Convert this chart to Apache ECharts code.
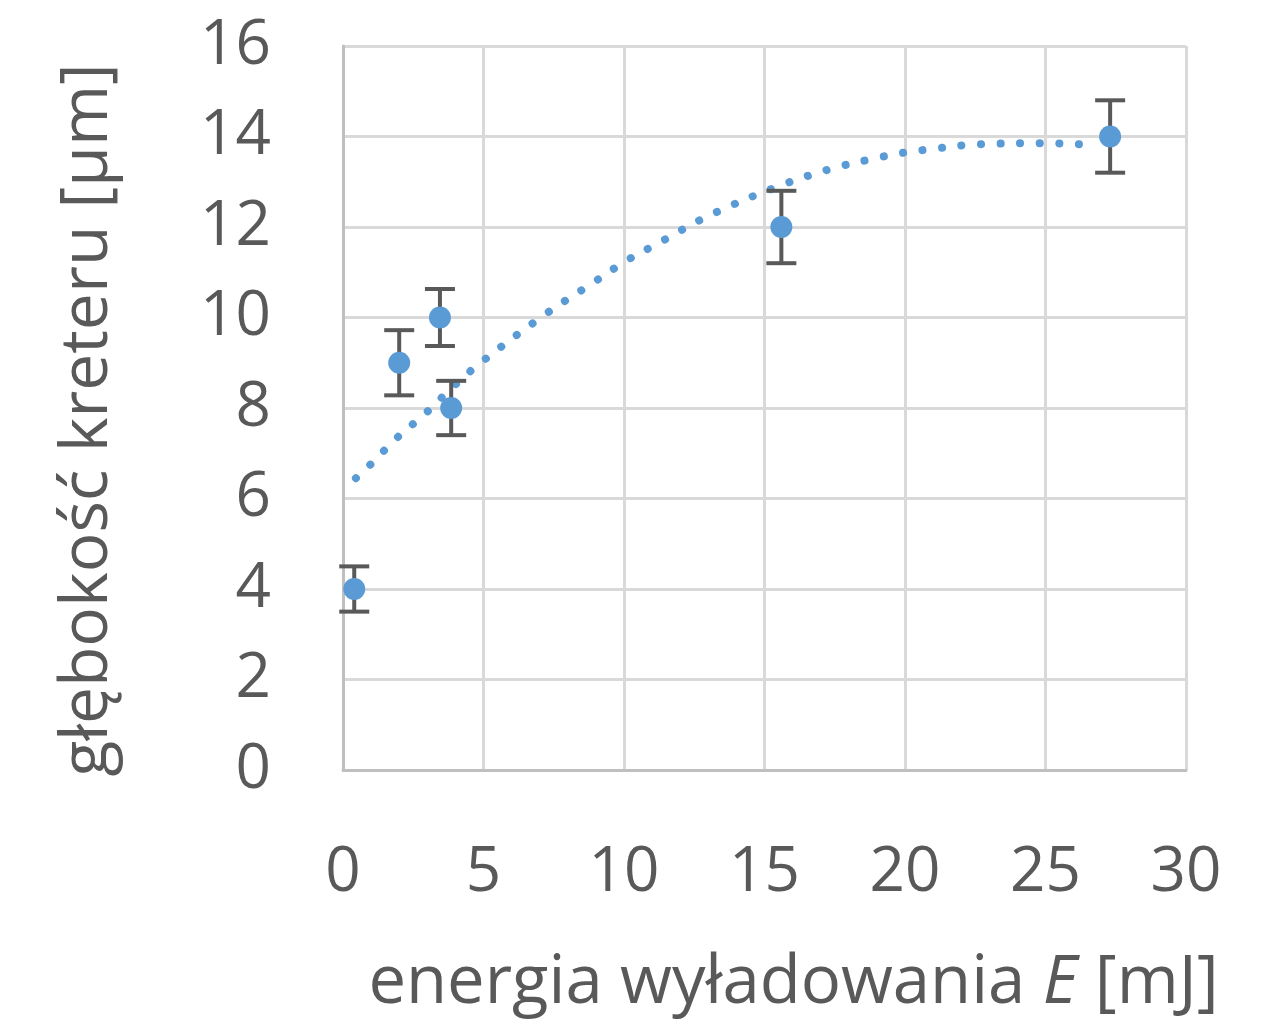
<!DOCTYPE html>
<html>
<head>
<meta charset="utf-8">
<script src="https://cdn.jsdelivr.net/npm/echarts@6/dist/echarts.min.js"></script>
<style>
html,body{margin:0;padding:0;background:#fff;}
#chart{width:1281px;height:1024px;}
</style>
</head>
<body>
<div id="chart"></div>
<script>
// measured points
const energy = [0.4, 2.0, 3.45, 3.85, 15.6, 27.3];
const depth = [4, 9, 10, 8, 12, 14];
const errors = [0.5, 0.72, 0.63, 0.6, 0.8, 0.8];

// trend line
const trendX = [0.46, 0.96, 1.92, 2.95, 3.95, 4.98, 7.22, 8.93, 10.07, 11.25, 12.99, 15.41, 17.33, 18.65, 19.93, 20.64, 22.67, 24.8, 26.19, 26.87];
const trendY = [6.45, 6.74, 7.34, 7.89, 8.49, 9.04, 10.08, 10.78, 11.25, 11.65, 12.24, 12.88, 13.28, 13.48, 13.64, 13.70, 13.83, 13.85, 13.83, 13.77];

const xTicks = [0, 5, 10, 15, 20, 25, 30];
const yTicks = [0, 2, 4, 6, 8, 10, 12, 14, 16];

const blue = '#5b9bd5';
const textColor = '#595959';
const font = 'Open Sans';

const chart = echarts.init(document.getElementById('chart'));
chart.setOption({
  animation: false,
  backgroundColor: '#fff',
  grid: {left: 343, right: 95, top: 46, bottom: 254, containLabel: false},
  xAxis: {
    type: 'value',
    min: xTicks[0], max: xTicks[xTicks.length - 1], interval: 5,
    name: '{a|energia wyładowania }{i|E}{a| [mJ]}',
    nameLocation: 'middle',
    nameGap: 180,
    nameTextStyle: {
      padding: [0, 0, 0, 58],
      rich: {
        a: {fontFamily: font, fontSize: 67, color: textColor},
        i: {fontFamily: font, fontSize: 67, color: textColor, fontStyle: 'italic'}
      }
    },
    axisLine: {show: true, lineStyle: {color: '#bfbfbf', width: 3}},
    axisTick: {show: false},
    splitLine: {show: true, lineStyle: {color: '#d9d9d9', width: 3}},
    axisLabel: {fontFamily: font, fontSize: 62, color: textColor, margin: 72}
  },
  yAxis: {
    type: 'value',
    min: yTicks[0], max: yTicks[yTicks.length - 1], interval: 2,
    name: 'głębokość kreteru [µm]',
    nameLocation: 'middle',
    nameGap: 222,
    nameTextStyle: {fontFamily: font, fontSize: 66, color: textColor, padding: [0, 24, 0, 0]},
    axisLine: {show: true, lineStyle: {color: '#bfbfbf', width: 3}},
    axisTick: {show: false},
    splitLine: {show: true, lineStyle: {color: '#d9d9d9', width: 3}},
    axisLabel: {fontFamily: font, fontSize: 62, color: textColor, margin: 72}
  },
  series: [
    {
      type: 'line',
      data: trendX.map((x, i) => [x, trendY[i]]),
      smooth: 0.4,
      showSymbol: false,
      symbol: 'none',
      lineStyle: {color: blue, width: 8, type: [0.1, 19.5], cap: 'round', opacity: 1},
      z: 2
    },
    {
      type: 'custom',
      data: energy.map((x, i) => [x, depth[i], errors[i]]),
      renderItem: function (params, api) {
        const x = api.value(0), y = api.value(1), e = api.value(2);
        const top = api.coord([x, y + e]);
        const bot = api.coord([x, y - e]);
        const hw = 15;
        const st = {stroke: '#595959', lineWidth: 4};
        return {
          type: 'group',
          children: [
            {type: 'line', shape: {x1: top[0], y1: top[1], x2: bot[0], y2: bot[1]}, style: st},
            {type: 'line', shape: {x1: top[0] - hw, y1: top[1], x2: top[0] + hw, y2: top[1]}, style: st},
            {type: 'line', shape: {x1: bot[0] - hw, y1: bot[1], x2: bot[0] + hw, y2: bot[1]}, style: st}
          ]
        };
      },
      z: 3
    },
    {
      type: 'scatter',
      data: energy.map((x, i) => [x, depth[i]]),
      symbol: 'circle',
      symbolSize: 22,
      itemStyle: {color: blue, opacity: 1},
      z: 4
    }
  ]
});
</script>
</body>
</html>
